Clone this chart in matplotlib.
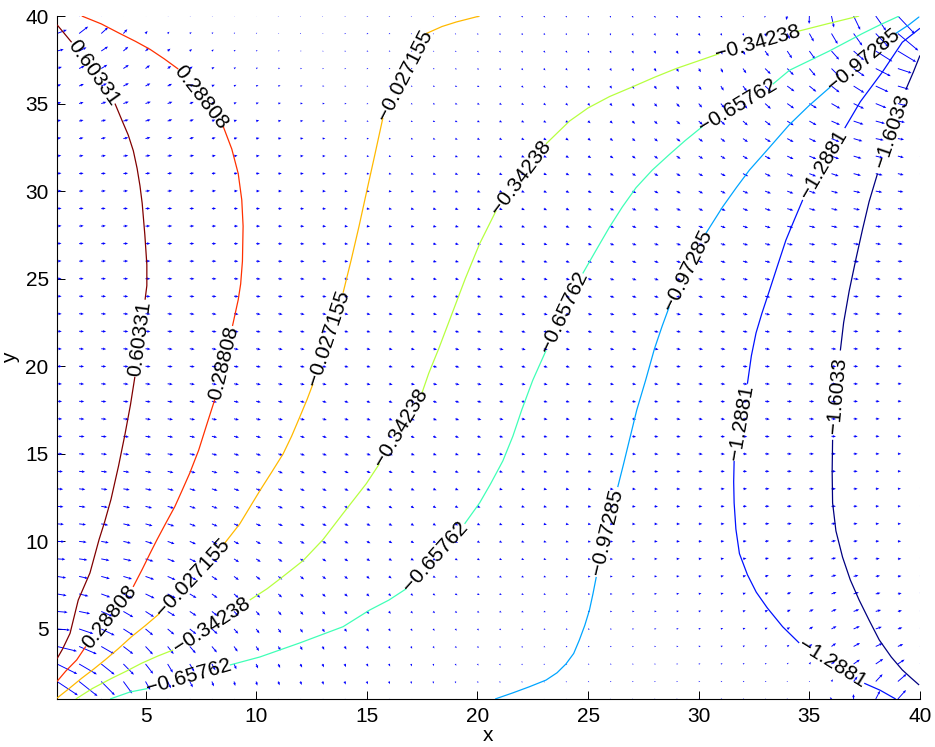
import numpy as np
import matplotlib
matplotlib.use("Agg")
import matplotlib.pyplot as plt
import matplotlib.tri as mtri

# ---------------- data ----------------
levels = [0.60331, 0.28808, -0.027155, -0.34238, -0.65762, -0.97285, -1.2881, -1.6033]
level_text = ["0.60331", "0.28808", "\u22120.027155", "\u22120.34238",
              "\u22120.65762", "\u22120.97285", "\u22121.2881", "\u22121.6033"]

# contour paths (x, y), split where MATLAB put the inline labels
c_060331 = [
    [(1.0, 39.5), (1.3, 39.05), (1.66, 38.5)],
    [(3.62, 35.0), (3.95, 34.0), (4.22, 33.2), (4.45, 32.3), (4.62, 31.3), (4.75, 30.3),
     (4.85, 29.3), (4.97, 27.5), (5.06, 25.8), (5.06, 24.6), (4.98, 23.8)],
    [(4.52, 19.4), (4.32, 17.8), (4.07, 16.1), (3.78, 14.3), (3.44, 12.4), (3.15, 11.1),
     (2.9, 10.1), (2.49, 8.2), (1.96, 6.65), (1.59, 4.75), (1.25, 3.85), (1.0, 3.3)],
]
c_028808 = [
    [(2.12, 40.0), (3.0, 39.55), (3.84, 39.0), (4.55, 38.55), (5.2, 38.1), (5.85, 37.55), (6.48, 36.97)],
    [(8.51, 33.7), (8.9, 32.4), (9.19, 31.0), (9.35, 29.5), (9.41, 28.0), (9.38, 26.0),
     (9.3, 24.7), (9.19, 23.8), (8.93, 22.3)],
    [(8.13, 18.1), (7.75, 16.6), (7.4, 15.2), (7.0, 13.9), (6.65, 12.9), (6.33, 12.0),
     (5.9, 11.0), (5.5, 10.05), (5.2, 9.3), (4.85, 8.4), (4.44, 7.4)],
    [(2.3, 4.0), (1.89, 3.23), (1.4, 2.6), (1.0, 2.0)],
]
c_m0027155 = [
    [(1.0, 1.05), (1.55, 1.6), (2.11, 2.18), (2.65, 2.7), (3.17, 3.23), (3.75, 3.85),
     (4.37, 4.56), (5.0, 5.2), (5.65, 5.9)],
    [(8.58, 9.9), (9.26, 11.0), (10.17, 12.9), (10.7, 13.95), (11.22, 15.0), (11.6, 16.0),
     (11.97, 17.1), (12.3, 18.1), (12.57, 19.0)],
    [(13.93, 24.2), (14.3, 26.1), (14.65, 28.0), (14.98, 29.9), (15.35, 32.0), (15.73, 34.2)],
    [(17.69, 39.0), (18.4, 39.4), (19.05, 39.66), (20.1, 40.0)],
]
c_m034238 = [
    [(1.85, 1.0), (2.6, 1.6), (3.47, 2.18), (4.15, 2.6), (4.82, 3.04), (5.55, 3.45), (6.25, 3.8)],
    [(9.71, 6.65), (10.5, 7.3), (11.22, 8.0), (12.12, 8.9), (13.02, 10.1), (13.93, 11.6),
     (14.98, 13.3), (15.58, 14.45)],
    [(17.5, 18.5), (17.8, 19.6), (18.25, 21.0), (18.85, 23.0), (19.45, 25.0), (20.1, 27.0), (20.85, 28.9)],
    [(23.1, 32.7), (24.16, 34.0), (25.0, 34.75), (25.97, 35.4), (27.0, 35.95), (28.0, 36.5),
     (28.98, 37.0), (30.93, 37.85)],
    [(34.4, 39.1), (35.8, 39.55), (37.25, 40.0)],
]
c_m065762 = [
    [(3.4, 1.0), (4.3, 1.4), (5.1, 1.6)],
    [(8.81, 2.94), (10.17, 3.4), (11.97, 4.2), (13.93, 5.13), (15.13, 6.08), (16.0, 6.65), (16.79, 7.3)],
    [(19.42, 11.0), (20.1, 12.2), (20.6, 13.3), (21.15, 14.6), (21.6, 16.0), (22.0, 17.5),
     (22.5, 19.2), (23.1, 20.9)],
    [(24.76, 25.3), (25.35, 26.6), (25.97, 27.95), (26.55, 29.1), (27.17, 30.2), (27.9, 31.2),
     (28.68, 32.1), (29.4, 32.9), (30.18, 33.7)],
    [(33.34, 36.1), (34.1, 36.9), (35.0, 37.45), (35.9, 38.0), (36.65, 38.5), (37.4, 39.0),
     (38.2, 39.5), (39.06, 40.0)],
]
c_m097285 = [
    [(20.8, 1.0), (21.6, 1.35), (22.35, 1.7), (23.1, 2.08), (23.6, 2.5), (24.0, 3.0), (24.35, 3.6),
     (24.6, 4.35), (24.85, 5.2), (25.06, 6.07), (25.22, 7.0), (25.37, 7.97)],
    [(26.34, 13.1), (26.6, 14.4), (26.87, 15.8), (27.2, 17.5), (27.6, 19.2), (28.0, 21.0),
     (28.35, 22.3), (28.67, 23.4)],
    [(30.33, 27.6), (31.08, 29.1), (31.7, 30.2), (32.29, 31.2), (33.2, 32.5), (34.1, 33.8),
     (35.0, 34.9), (35.95, 35.95)],
    [(38.9, 39.0), (39.5, 39.5), (39.96, 39.95)],
]
c_m12881 = [
    [(40.0, 39.3), (39.2, 38.5), (38.3, 36.8), (37.3, 35.1), (36.6, 33.6)],
    [(34.7, 29.5), (34.3, 28.3), (33.94, 27.2), (33.55, 25.7), (33.19, 24.3), (32.85, 23.0),
     (32.59, 21.9), (32.38, 20.6), (32.2, 19.0)],
    [(31.6, 14.6), (31.58, 13.4), (31.6, 12.2), (31.68, 10.7), (31.84, 9.3), (32.2, 8.1),
     (32.6, 7.1), (33.1, 6.2), (33.79, 5.13), (34.54, 4.2)],
    [(37.48, 1.9), (38.2, 1.5), (38.9, 1.0)],
]
c_m16033 = [
    [(40.0, 37.75), (39.7, 36.8), (39.36, 35.8)],
    [(38.08, 31.0), (37.7, 29.4), (37.4, 27.8), (37.1, 26.1), (36.8, 24.3), (36.55, 22.5), (36.4, 20.9)],
    [(36.05, 15.8), (36.03, 14.0), (36.05, 12.2), (36.2, 10.6), (36.5, 9.1), (36.85, 7.8),
     (37.25, 6.65), (37.7, 5.5), (38.16, 4.37), (38.7, 3.4), (39.2, 2.66), (39.6, 2.2), (39.96, 1.8)],
]
contour_paths = [c_060331, c_028808, c_m0027155, c_m034238,
                 c_m065762, c_m097285, c_m12881, c_m16033]

# field values estimated along the plot edges
left_y = [5, 7.5, 10, 15, 20, 25, 30, 35, 38, 40]
left_z = [0.73, 0.79, 0.83, 0.87, 0.89, 0.91, 0.88, 0.80, 0.70, 0.55]
top_x = [5, 10, 15, 25, 30, 33]
top_z = [0.2, 0.1, 0.04, -0.12, -0.21, -0.27]
right_y = [1, 3, 5, 10, 15, 20, 25, 30, 34, 40]
right_z = [-1.45, -1.7, -1.76, -1.82, -1.84, -1.85, -1.84, -1.8, -1.72, -1.0]
bottom_x = [5, 7.5, 10, 12.5, 15, 17.5, 25, 30, 35]
bottom_z = [-0.72, -0.8, -0.86, -0.9, -0.93, -0.955, -1.02, -1.12, -1.22]

grid_x = np.arange(1, 41)
grid_y = np.arange(1, 41)
arrow_gain = 2.8

# ---------------- field for the arrows (library interpolation) ----------------
sx, sy, sz = [], [], []
for lev, segs in zip(levels, contour_paths):
    for i, seg in enumerate(segs):
        for (x, y) in seg:
            sx.append(x); sy.append(y); sz.append(lev)
        if i + 1 < len(segs):
            (x0, y0), (x1, y1) = seg[-1], segs[i + 1][0]
            sx.append((x0 + x1) / 2); sy.append((y0 + y1) / 2); sz.append(lev)
for yy, zz in zip(left_y, left_z):
    sx.append(1.0); sy.append(yy); sz.append(zz)
for xx, zz in zip(top_x, top_z):
    sx.append(xx); sy.append(40.0); sz.append(zz)
for yy, zz in zip(right_y, right_z):
    sx.append(40.0); sy.append(yy); sz.append(zz)
for xx, zz in zip(bottom_x, bottom_z):
    sx.append(xx); sy.append(1.0); sz.append(zz)
sx = np.array(sx); sy = np.array(sy); sz = np.array(sz)
key = np.round(sx, 3) * 1000 + np.round(sy, 3)
_, idx = np.unique(key, return_index=True)
sx, sy, sz = sx[idx], sy[idx], sz[idx]

tri = mtri.Triangulation(sx, sy)
interp = mtri.CubicTriInterpolator(tri, sz, kind="min_E")
GX, GY = np.meshgrid(grid_x, grid_y)
Z = interp(GX, GY).filled(np.nan)
bad = np.isnan(Z)
if bad.any():
    for (r, c) in zip(*np.nonzero(bad)):
        d = (sx - GX[r, c]) ** 2 + (sy - GY[r, c]) ** 2
        Z[r, c] = sz[np.argmin(d)]
dZdy, dZdx = np.gradient(Z)
U = -dZdx
V = -dZdy

# ---------------- drawing ----------------
FONT = "Liberation Sans"
FS = 15
fig = plt.figure(figsize=(9.35, 7.47), dpi=100)
ax = fig.add_axes([57 / 935, 1 - 699 / 747, (920 - 57) / 935, (699 - 16) / 747])
ax.set_xlim(1, 40)
ax.set_ylim(1, 40)

ax.quiver(GX, GY, U, V, angles="xy", scale_units="xy", scale=1.0 / arrow_gain,
          color=(0, 0, 1), width=0.0011, headwidth=3.0, headlength=3.5, headaxislength=3.0,
          pivot="tail", zorder=2)

cmap = plt.get_cmap("jet")
norm = plt.Normalize(min(levels), max(levels))
for lev, txt, segs in zip(levels, level_text, contour_paths):
    col = cmap(norm(lev))
    for i, seg in enumerate(segs):
        xs = [p[0] for p in seg]
        ys = [p[1] for p in seg]
        ax.plot(xs, ys, color=col, lw=0.9, zorder=3, solid_capstyle="butt",
                solid_joinstyle="round")
        if i + 1 < len(segs):
            (x0, y0), (x1, y1) = seg[-1], segs[i + 1][0]
            p0 = ax.transData.transform((x0, y0))
            p1 = ax.transData.transform((x1, y1))
            ang = np.degrees(np.arctan2(p1[1] - p0[1], p1[0] - p0[0]))
            if ang > 90:
                ang -= 180
            if ang < -90:
                ang += 180
            ax.text((x0 + x1) / 2, (y0 + y1) / 2, txt, rotation=ang, rotation_mode="anchor",
                    ha="center", va="center", fontsize=FS, family=FONT, zorder=4)

ax.set_xticks([5, 10, 15, 20, 25, 30, 35, 40])
ax.set_yticks([5, 10, 15, 20, 25, 30, 35, 40])
ax.tick_params(direction="in", length=6, width=0.7, labelsize=FS, pad=6)
for lab in ax.get_xticklabels() + ax.get_yticklabels():
    lab.set_family(FONT)
ax.spines["top"].set_visible(False)
ax.spines["right"].set_visible(False)
ax.spines["left"].set_linewidth(0.8)
ax.spines["bottom"].set_linewidth(0.8)
ax.set_xlabel("x", fontsize=FS, family=FONT, labelpad=0)
ax.set_ylabel("y", fontsize=FS, family=FONT, labelpad=4)

fig.savefig("out.png", dpi=100)
